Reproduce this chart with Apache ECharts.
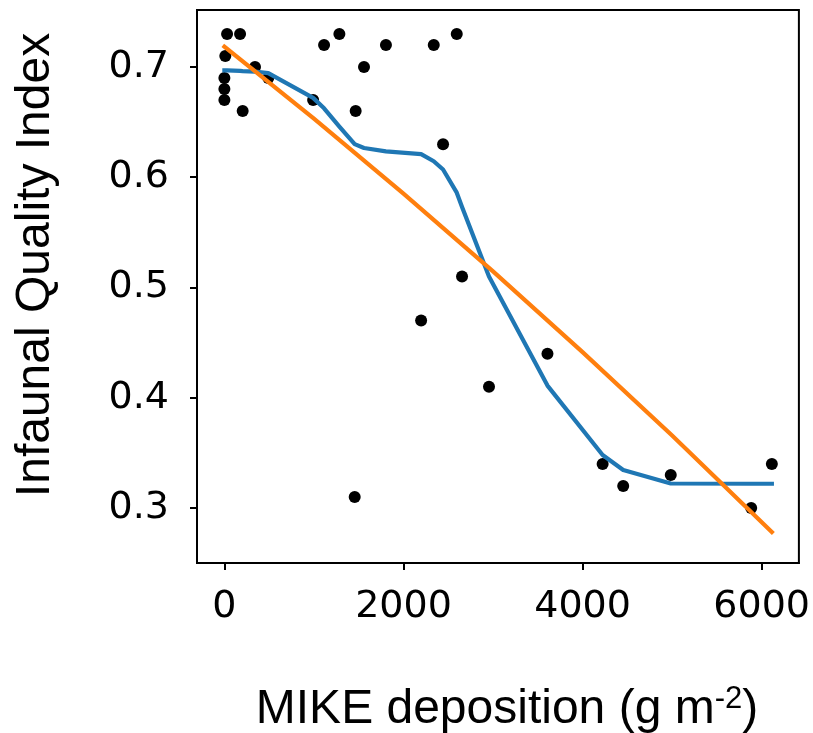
<!DOCTYPE html>
<html>
<head>
<meta charset="utf-8">
<script src="https://cdn.jsdelivr.net/npm/echarts@6/dist/echarts.min.js"></script>
<style>
  html, body { margin: 0; padding: 0; background: #fff; }
  #chart { width: 813px; height: 733px; }
</style>
</head>
<body>
<div id="chart"></div>
<script>
// Sampled stations: MIKE deposition (g m-2) and infaunal quality index
const depositionX = [0, 0, 0, 10, 30, 175, 204, 342, 490, 991, 1113, 1284, 1455, 1466,
  1559, 1804, 2197, 2338, 2442, 2595, 2654, 2955, 3608, 4224, 4454, 4985, 5883, 6114];
const qualityIndex = [0.69, 0.68, 0.67, 0.71, 0.73, 0.73, 0.66, 0.70, 0.69, 0.67, 0.72, 0.73, 0.31, 0.66,
  0.70, 0.72, 0.47, 0.72, 0.63, 0.73, 0.51, 0.41, 0.44, 0.34, 0.32, 0.33, 0.30, 0.34];

// Smoothed (LOWESS) curve evaluated at the sorted deposition values
const smoothX = [0, 10, 30, 175, 204, 342, 490, 991, 1113, 1284, 1455, 1466, 1559, 1804,
  2197, 2338, 2442, 2595, 2654, 2955, 3608, 4224, 4454, 4985, 5883, 6114];
const smoothY = [0.697, 0.697, 0.697, 0.6965, 0.6963, 0.6958, 0.6945, 0.672, 0.6625, 0.646,
  0.630, 0.629, 0.6265, 0.6235, 0.621, 0.6145, 0.607, 0.586, 0.573, 0.510, 0.411, 0.348,
  0.3345, 0.3222, 0.322, 0.322];

// Regression fit
const fitX = [0, 1000, 2000, 3000, 4000, 5000, 6114];
const fitY = [0.7185, 0.6531, 0.5852, 0.5146, 0.4414, 0.3657, 0.2782];

// Axis ticks
const xTicks = [0, 2000, 4000, 6000];
const yTicks = [0.3, 0.4, 0.5, 0.6, 0.7];

const zip = (xs, ys) => xs.map((x, i) => [x, ys[i]]);

const chart = echarts.init(document.getElementById('chart'), null, { renderer: 'canvas' });

const tickFont = 'DejaVu Sans';
const titleFont = 'Liberation Sans';

chart.setOption({
  animation: false,
  backgroundColor: '#ffffff',
  grid: {
    left: 197, top: 10, width: 604, height: 553,
    show: true, borderColor: '#000', borderWidth: 2, backgroundColor: 'transparent'
  },
  xAxis: {
    type: 'value',
    min: -306, max: 6416,
    axisLine: { show: true, onZero: false, lineStyle: { color: '#000', width: 2 } },
    splitLine: { show: false },
    axisTick: {
      show: true, inside: false, length: 7,
      lineStyle: { color: '#000', width: 2 },
      customValues: xTicks
    },
    axisLabel: {
      show: true, margin: 25, color: '#000',
      fontFamily: tickFont, fontSize: 38,
      customValues: xTicks,
      formatter: v => String(v)
    }
  },
  yAxis: {
    type: 'value',
    min: 0.2501, max: 0.7517,
    axisLine: { show: true, onZero: false, lineStyle: { color: '#000', width: 2 } },
    splitLine: { show: false },
    axisTick: {
      show: true, inside: false, length: 7,
      lineStyle: { color: '#000', width: 2 },
      customValues: yTicks
    },
    axisLabel: {
      show: true, margin: 28, color: '#000',
      fontFamily: tickFont, fontSize: 38,
      customValues: yTicks,
      formatter: v => v.toFixed(1)
    }
  },
  series: [
    {
      type: 'scatter',
      data: zip(depositionX, qualityIndex),
      symbol: 'circle',
      symbolSize: 12,
      itemStyle: { color: '#000', opacity: 1 },
      z: 2
    },
    {
      type: 'line',
      data: zip(smoothX, smoothY),
      showSymbol: false,
      smooth: false,
      lineStyle: { color: '#1f77b4', width: 4.2, cap: 'square', join: 'round' },
      z: 3
    },
    {
      type: 'line',
      data: zip(fitX, fitY),
      showSymbol: false,
      smooth: false,
      lineStyle: { color: '#ff7f0e', width: 4.2, cap: 'square', join: 'round' },
      z: 4
    }
  ],
  graphic: [
    {
      type: 'text',
      x: 36, y: 265,
      rotation: Math.PI / 2,
      style: {
        text: 'Infaunal Quality Index',
        fill: '#000',
        font: '48px "Liberation Sans"',
        align: 'center',
        verticalAlign: 'middle'
      }
    },
    {
      type: 'text',
      x: 507, y: 710,
      style: {
        text: '{a|MIKE deposition (g m}{s|-2}{a|)}',
        fill: '#000',
        align: 'center',
        verticalAlign: 'middle',
        rich: {
          a: { fontFamily: titleFont, fontSize: 48, lineHeight: 56, fill: '#000' },
          s: { fontFamily: titleFont, fontSize: 31, lineHeight: 56, padding: [0, 0, 22, 0], fill: '#000' }
        }
      }
    }
  ]
});
</script>
</body>
</html>
